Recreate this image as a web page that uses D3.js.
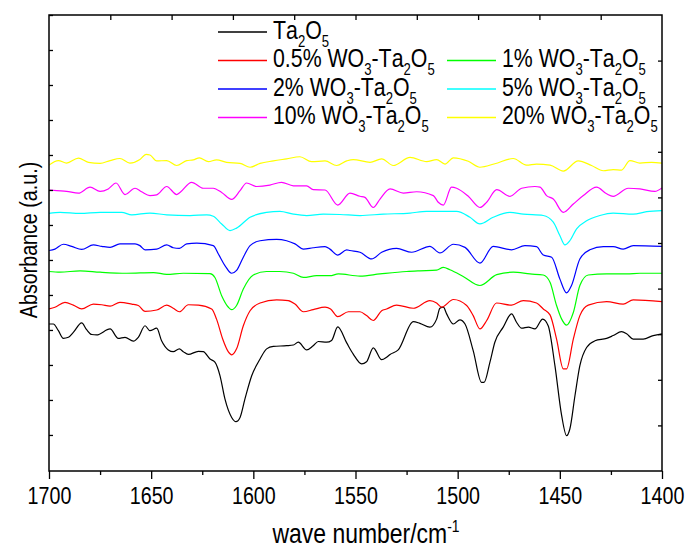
<!DOCTYPE html>
<meta charset="utf-8">
<style>
  body { margin: 0; background: #fff; }
  text { font-family: "Liberation Sans Narrow", "Arial Narrow", "Liberation Sans", Arial, sans-serif; fill: #000; }
  .series { fill: none; stroke-width: 1.2px; stroke-linejoin: round; }
  .tick line { stroke: #000; stroke-width: 1.3px; }
</style>
<body>
<div id="chart"></div>
<script src="https://cdn.jsdelivr.net/npm/d3@7"></script>
<script>
// [wave number, absorbance]
var ta2o5 = [[1700,0.317],[1697.9,0.317],[1695.4,0.298],[1693,0.276],[1690.5,0.279],[1688.1,0.293],[1684,0.320],[1681.6,0.301],[1679.1,0.287],[1676.7,0.286],[1670.1,0.303],[1666.1,0.276],[1662.8,0.279],[1658.7,0.268],[1656.3,0.279],[1653,0.312],[1650.6,0.298],[1647.3,0.305],[1644.9,0.269],[1641.6,0.243],[1639.2,0.238],[1636.2,0.246],[1634.3,0.238],[1631.8,0.230],[1626.9,0.239],[1624.5,0.238],[1621.2,0.217],[1618.8,0.208],[1616.3,0.169],[1613.9,0.103],[1610.6,0.050],[1608.5,0.038],[1606.5,0.050],[1604.1,0.103],[1600.8,0.169],[1596.7,0.217],[1593.5,0.246],[1590.2,0.253],[1583.7,0.255],[1580.4,0.257],[1578,0.265],[1573.9,0.243],[1570.7,0.255],[1568.2,0.267],[1564.1,0.265],[1561.7,0.270],[1558.7,0.309],[1554.3,0.263],[1551.1,0.231],[1547,0.203],[1544.6,0.209],[1541.3,0.249],[1537.2,0.215],[1534.8,0.222],[1533.1,0.230],[1529.1,0.243],[1521.7,0.324],[1518.5,0.319],[1513.6,0.308],[1510.3,0.331],[1508.7,0.362],[1507,0.365],[1505.4,0.346],[1502.1,0.317],[1498.9,0.329],[1496.4,0.317],[1492.4,0.241],[1488.3,0.150],[1487.1,0.150],[1484.2,0.208],[1481.8,0.265],[1477.7,0.308],[1473.6,0.346],[1471.2,0.322],[1468.7,0.305],[1465.4,0.308],[1462.2,0.303],[1458.4,0.331],[1455.7,0.312],[1452.4,0.198],[1449.1,0.055],[1446.7,-0.002],[1445.1,0.017],[1442.6,0.112],[1440.2,0.198],[1436.9,0.250],[1432.8,0.269],[1427.1,0.276],[1423.9,0.284],[1419.8,0.295],[1417.3,0.289],[1414.1,0.274],[1409.2,0.274],[1404.3,0.284],[1400,0.289]];

var wo3_05 = [[1700,0.360],[1697.1,0.365],[1692.2,0.379],[1688.1,0.371],[1684,0.360],[1678.3,0.374],[1674.2,0.372],[1670.1,0.368],[1665.3,0.379],[1659.5,0.374],[1656.3,0.370],[1653,0.353],[1647.3,0.357],[1642.4,0.371],[1639.2,0.362],[1636.2,0.352],[1631.8,0.372],[1626.9,0.371],[1620.4,0.360],[1618,0.331],[1615,0.274],[1612.3,0.238],[1610.6,0.229],[1608.2,0.246],[1604.9,0.312],[1601.6,0.355],[1596.7,0.377],[1588.6,0.386],[1582.9,0.384],[1579.6,0.374],[1575.5,0.352],[1570.7,0.358],[1564.9,0.365],[1562.2,0.360],[1558.7,0.338],[1553.5,0.352],[1547.8,0.352],[1544.6,0.341],[1541.3,0.327],[1537.2,0.355],[1534.8,0.360],[1529.9,0.371],[1521.7,0.362],[1513.6,0.384],[1510.3,0.377],[1507.9,0.365],[1502.1,0.387],[1495.6,0.370],[1492.4,0.341],[1489.1,0.303],[1485.8,0.327],[1481,0.377],[1473.6,0.371],[1467.9,0.384],[1461.4,0.377],[1458.1,0.360],[1454.8,0.343],[1451.6,0.274],[1448.3,0.189],[1446.7,0.189],[1443.4,0.274],[1440.2,0.341],[1436.1,0.371],[1427.1,0.381],[1419,0.374],[1414.1,0.386],[1400,0.381]];

var wo3_1 = [[1700,0.467],[1694.6,0.465],[1684.8,0.469],[1675,0.465],[1662,0.462],[1648.9,0.464],[1642.4,0.459],[1634.3,0.462],[1621.2,0.461],[1618.8,0.450],[1615.5,0.398],[1612.2,0.365],[1610.6,0.358],[1608.2,0.370],[1604.9,0.417],[1600,0.457],[1593.5,0.467],[1587,0.467],[1580.4,0.462],[1575.5,0.450],[1569,0.455],[1562.5,0.455],[1558.4,0.460],[1547.8,0.454],[1538,0.460],[1525,0.467],[1518.5,0.469],[1510.3,0.471],[1507,0.479],[1503.8,0.472],[1497.3,0.453],[1489.1,0.427],[1480.9,0.458],[1472.8,0.465],[1464.6,0.460],[1458.1,0.457],[1454.8,0.436],[1451.6,0.370],[1449.1,0.331],[1446.7,0.314],[1443.4,0.350],[1440.2,0.427],[1436.1,0.457],[1427.1,0.460],[1417.3,0.460],[1410.8,0.462],[1400,0.462]];

var wo3_2 = [[1700,0.527],[1697.1,0.531],[1693,0.545],[1688.9,0.539],[1684,0.530],[1678.3,0.543],[1674.2,0.539],[1670.1,0.536],[1665.3,0.546],[1657.9,0.546],[1655.5,0.541],[1653,0.529],[1647.3,0.531],[1642.4,0.543],[1639.2,0.535],[1636.2,0.533],[1632.6,0.546],[1627.7,0.548],[1619.6,0.541],[1617.1,0.517],[1613.9,0.484],[1610.6,0.462],[1608.2,0.470],[1604.9,0.508],[1601.6,0.541],[1596.7,0.555],[1588.6,0.559],[1583.7,0.555],[1579.6,0.546],[1575.5,0.531],[1570.7,0.535],[1564.9,0.538],[1562.5,0.531],[1558.7,0.514],[1554.3,0.529],[1552.7,0.527],[1547.8,0.522],[1542.1,0.503],[1537.2,0.522],[1529.9,0.533],[1522.5,0.522],[1513.6,0.539],[1508.7,0.520],[1502.1,0.545],[1496.4,0.536],[1489.1,0.491],[1482.6,0.539],[1473.6,0.529],[1467.1,0.541],[1461.4,0.538],[1458.1,0.514],[1454,0.508],[1450,0.446],[1446.7,0.406],[1444.3,0.427],[1440.2,0.503],[1435.3,0.529],[1428.7,0.538],[1423.9,0.538],[1419,0.531],[1414.1,0.541],[1400,0.539]];

var wo3_5 = [[1700,0.633],[1694.6,0.636],[1684.8,0.633],[1675,0.636],[1664.4,0.636],[1659.5,0.629],[1650.6,0.634],[1642.4,0.629],[1631,0.627],[1622.8,0.629],[1619.6,0.625],[1615.5,0.603],[1611.4,0.584],[1608.2,0.591],[1601.6,0.622],[1593.5,0.636],[1587,0.639],[1580.4,0.631],[1573.9,0.627],[1565.8,0.631],[1557.6,0.630],[1547.8,0.627],[1536.4,0.631],[1523.3,0.634],[1515.2,0.639],[1500.5,0.639],[1494,0.622],[1489.1,0.603],[1482.6,0.622],[1474.4,0.636],[1467.9,0.631],[1458.1,0.627],[1453.2,0.608],[1450,0.570],[1447.5,0.543],[1445.1,0.555],[1441.8,0.589],[1436.9,0.612],[1430.4,0.627],[1423.9,0.634],[1414.1,0.631],[1407.5,0.638],[1400,0.641]];

var wo3_10 = [[1700,0.700],[1696.2,0.698],[1691.4,0.696],[1685.6,0.691],[1679.9,0.708],[1675,0.696],[1671,0.703],[1667.2,0.720],[1662.8,0.687],[1657.9,0.705],[1654.7,0.695],[1650.6,0.684],[1647.3,0.686],[1642.4,0.710],[1637.5,0.687],[1635.9,0.693],[1630.2,0.722],[1624.5,0.705],[1619.6,0.705],[1615.5,0.693],[1610.6,0.673],[1606.5,0.698],[1603.3,0.720],[1598.4,0.710],[1591.9,0.714],[1586.2,0.722],[1580.4,0.712],[1573.9,0.712],[1570.7,0.701],[1564.9,0.700],[1558.7,0.657],[1552.7,0.691],[1547.8,0.682],[1545.4,0.679],[1541.3,0.650],[1538,0.674],[1533.1,0.703],[1526.6,0.691],[1520.1,0.695],[1511.9,0.684],[1509.5,0.665],[1507,0.657],[1503,0.708],[1500.5,0.705],[1494.8,0.682],[1489.1,0.650],[1485.8,0.665],[1480.9,0.701],[1474.4,0.682],[1468.7,0.705],[1462.2,0.710],[1459.7,0.708],[1456.5,0.684],[1453.2,0.674],[1448.3,0.636],[1443.4,0.660],[1438.5,0.684],[1432,0.708],[1427.1,0.689],[1423.9,0.682],[1416.5,0.705],[1410.8,0.703],[1403.5,0.696],[1400,0.706]];

var wo3_20 = [[1700,0.771],[1695.4,0.784],[1691.4,0.777],[1685.6,0.791],[1680.7,0.779],[1675,0.776],[1670.1,0.784],[1665.3,0.790],[1660.4,0.777],[1655.5,0.787],[1652.5,0.802],[1650.6,0.800],[1647.3,0.783],[1642.4,0.784],[1637.5,0.770],[1632.6,0.784],[1629.4,0.786],[1626.4,0.792],[1622,0.781],[1618,0.786],[1613.1,0.779],[1606.5,0.776],[1601.6,0.765],[1596.7,0.776],[1590.2,0.783],[1583.7,0.789],[1577.2,0.795],[1571.5,0.781],[1564.9,0.783],[1559.2,0.770],[1554.3,0.783],[1551.1,0.787],[1542.9,0.779],[1537.2,0.789],[1531.5,0.770],[1523.3,0.793],[1515.2,0.781],[1510.3,0.787],[1506.2,0.774],[1502.1,0.792],[1494.8,0.782],[1489.1,0.765],[1481.8,0.775],[1472.8,0.790],[1466.3,0.771],[1461.4,0.774],[1454.8,0.771],[1448.3,0.754],[1441,0.783],[1434.5,0.770],[1428.7,0.755],[1423.9,0.758],[1419.8,0.757],[1415.7,0.784],[1410.8,0.777],[1405.1,0.779],[1400,0.777]];

var seriesNames = ["Ta2O5", "0.5% WO3-Ta2O5", "1% WO3-Ta2O5", "2% WO3-Ta2O5", "5% WO3-Ta2O5", "10% WO3-Ta2O5", "20% WO3-Ta2O5"];
var seriesColors = ["#000000", "#ff0000", "#00ff00", "#0000ff", "#00ffff", "#ff00ff", "#ffff00"];
var seriesData = [ta2o5, wo3_05, wo3_1, wo3_2, wo3_5, wo3_10, wo3_20];
var xTicks = [1700, 1650, 1600, 1550, 1500, 1450, 1400];
var xMinor = [1675, 1625, 1575, 1525, 1475, 1425];

var W = 689, H = 549;
var margin = {top: 15, right: 27, bottom: 78, left: 49};
var width = W - margin.left - margin.right,
    height = H - margin.top - margin.bottom;

var svg = d3.select("#chart").append("svg")
    .attr("width", W)
    .attr("height", H);

// check whether the narrow face is there, otherwise squeeze the regular one
var probe = svg.append("text").style("font-size", "24px").text("1700");
var probeW = probe.node().getComputedTextLength();
probe.remove();
var sx = probeW > 48 ? 0.82 : 1;

var g = svg.append("g").attr("transform", "translate(" + margin.left + "," + margin.top + ")");

var x = d3.scaleLinear().domain([1700, 1400]).range([0, width]);
var y = d3.scaleLinear().domain([-0.103, 1.2]).range([height, 0]);
// linked top / right axes (0..1 layer scale)
var xTop = d3.scaleLinear().domain([0, 1]).range([0, width]);
var yRight = d3.scaleLinear().domain([0, 1]).range([height, 0]);

g.append("defs").append("clipPath").attr("id", "clip")
  .append("rect").attr("width", width).attr("height", height);

var line = d3.line()
    .x(function(d) { return x(d[0]); })
    .y(function(d) { return y(d[1]); })
    .curve(d3.curveMonotoneX);

g.append("g").attr("clip-path", "url(#clip)")
  .selectAll("path")
  .data(seriesData)
  .enter().append("path")
    .attr("class", "series")
    .attr("d", line)
    .style("stroke", function(d, i) { return seriesColors[i]; });

// axes
var bottomAxis = g.append("g")
    .attr("transform", "translate(0," + height + ")")
    .call(d3.axisBottom(x).tickValues(xTicks).tickSize(8).tickFormat(d3.format("d")));
bottomAxis.selectAll("text")
    .attr("y", null).attr("dy", null)
    .attr("transform", "translate(0,33) scale(" + sx + ",1)")
    .style("font-size", "24px")
    .style("font-family", null);

g.append("g")
    .attr("transform", "translate(0," + height + ")")
    .call(d3.axisBottom(x).tickValues(xMinor).tickSize(4).tickFormat(""));

g.append("g")
    .call(d3.axisLeft(y).tickValues(d3.range(0, 1.201, 0.1)).tickSize(-4).tickFormat(""));

g.append("g")
    .attr("transform", "translate(" + width + ",0)")
    .call(d3.axisRight(yRight).tickValues(d3.range(0.1, 0.95, 0.1)).tickSize(-4).tickFormat(""));

g.append("g")
    .call(d3.axisTop(xTop).tickValues(d3.range(0.1, 0.95, 0.1)).tickSize(-5).tickFormat(""));

g.selectAll(".domain").remove();

g.append("rect")
    .attr("width", width)
    .attr("height", height)
    .style("fill", "none")
    .style("stroke", "#000")
    .style("stroke-width", "1.5px");

// axis titles
svg.append("text")
    .attr("transform", "translate(37,240) rotate(-90) scale(" + sx + ",1)")
    .style("text-anchor", "middle")
    .style("font-size", "24px")
    .text("Absorbance (a.u.)");

var xTitle = svg.append("text")
    .attr("transform", "translate(366,543) scale(" + sx + ",1)")
    .style("text-anchor", "middle")
    .style("font-size", "28px");
xTitle.append("tspan").text("wave number/cm");
xTitle.append("tspan").attr("dy", -11).style("font-size", "17px").text("-1");

// legend
var legendPos = [[0, 0], [0, 1], [1, 1], [0, 2], [1, 2], [0, 3], [1, 3]];
var colX = [218, 447], rowY = [32, 60.5, 89, 117.5];

function addLabel(sel, label) {
  // digits right after a letter are subscripts
  var parts = label.match(/[A-Za-z]\d|[^A-Za-z]+|[A-Za-z]/g);
  var down = false;
  parts.forEach(function(p) {
    if (/^[A-Za-z]\d$/.test(p)) {
      sel.append("tspan").attr("dy", down ? -8 : null).text(p[0]);
      sel.append("tspan").attr("dy", 8).style("font-size", "16px").text(p[1]);
      down = true;
    } else {
      sel.append("tspan").attr("dy", down ? -8 : null).text(p);
      down = false;
    }
  });
}

var legend = svg.append("g");
seriesNames.forEach(function(name, i) {
  var lx = colX[legendPos[i][0]], ly = rowY[legendPos[i][1]];
  legend.append("line")
      .attr("x1", lx).attr("x2", lx + 49)
      .attr("y1", ly).attr("y2", ly)
      .style("stroke", seriesColors[i])
      .style("stroke-width", "1.3px");
  var t = legend.append("text")
      .attr("transform", "translate(" + (lx + 55) + "," + (ly + 6.5) + ") scale(" + sx + ",1)")
      .style("font-size", "26px");
  addLabel(t, name);
});
</script>
</body>
</html>
